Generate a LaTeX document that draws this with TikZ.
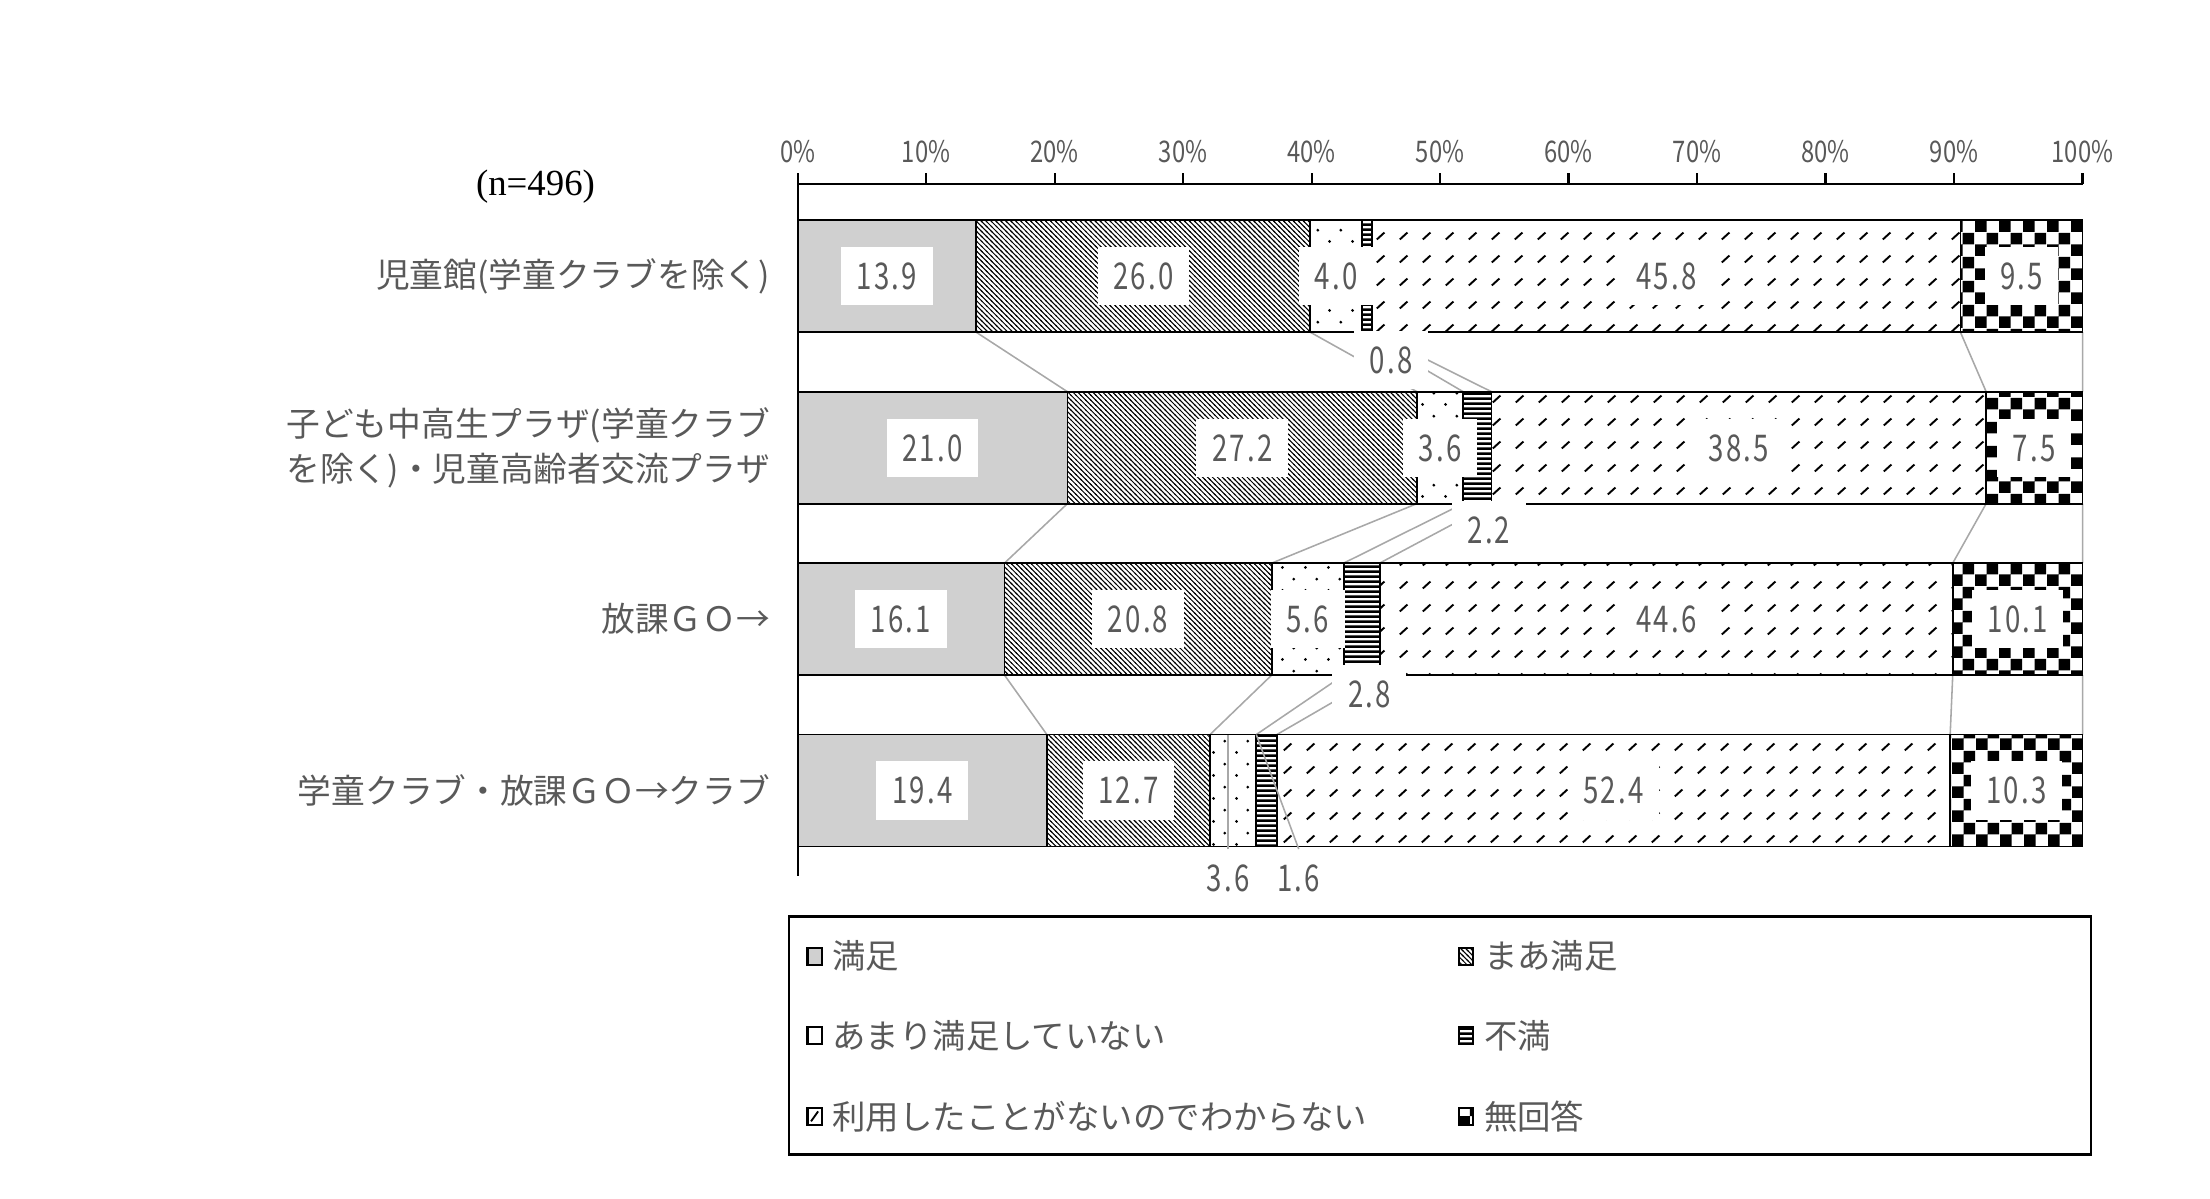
\documentclass[tikz,border=0pt]{standalone}
\usepackage{fontspec}
\setmainfont{Noto Sans CJK JP}
\newfontfamily\numfont[FakeStretch=0.75,LetterSpace=6]{Noto Sans CJK JP}
\newfontfamily\tickfont[FakeStretch=0.8]{Noto Sans CJK JP}
\newfontfamily\serfont{Liberation Serif}
\usetikzlibrary{patterns}
\definecolor{txtgray}{RGB}{89,89,89}
\definecolor{satgray}{RGB}{208,208,208}
\definecolor{sergray}{RGB}{168,168,168}

% fill patterns of the six answers
\pgfdeclarepatternformonly{diagfine}{\pgfqpoint{-1pt}{-1pt}}{\pgfqpoint{4.5pt}{4.5pt}}{\pgfqpoint{3.5pt}{3.5pt}}{%
  \pgfsetlinewidth{0.72pt}%
  \pgfpathmoveto{\pgfqpoint{-0.5pt}{4pt}}%
  \pgfpathlineto{\pgfqpoint{4pt}{-0.5pt}}%
  \pgfusepath{stroke}}
\pgfdeclarepatternformonly{sparsedots}{\pgfqpoint{0pt}{0pt}}{\pgfqpoint{16.4pt}{16.4pt}}{\pgfqpoint{16.4pt}{16.4pt}}{%
  \pgfpathcircle{\pgfqpoint{4pt}{4pt}}{1.1pt}%
  \pgfpathcircle{\pgfqpoint{12.2pt}{12.2pt}}{1.1pt}%
  \pgfusepath{fill}}
\pgfdeclarepatternformonly{hstripes}{\pgfqpoint{0pt}{0pt}}{\pgfqpoint{3.5pt}{3.5pt}}{\pgfqpoint{3.5pt}{3.5pt}}{%
  \pgfpathrectangle{\pgfqpoint{0pt}{0pt}}{\pgfqpoint{3.5pt}{1.8pt}}%
  \pgfusepath{fill}}
\pgfdeclarepatternformonly{slashes}{\pgfqpoint{0pt}{0pt}}{\pgfqpoint{16.4pt}{16.4pt}}{\pgfqpoint{16.4pt}{16.4pt}}{%
  \pgfsetlinewidth{1.4pt}%
  \pgfpathmoveto{\pgfqpoint{5pt}{5.5pt}}%
  \pgfpathlineto{\pgfqpoint{10.5pt}{10.5pt}}%
  \pgfusepath{stroke}}
\pgfdeclarepatternformonly{checks}{\pgfqpoint{0pt}{0pt}}{\pgfqpoint{16.6pt}{16.6pt}}{\pgfqpoint{16.6pt}{16.6pt}}{%
  \pgfpathrectangle{\pgfqpoint{0pt}{0pt}}{\pgfqpoint{8.3pt}{8.3pt}}%
  \pgfpathrectangle{\pgfqpoint{8.3pt}{8.3pt}}{\pgfqpoint{8.3pt}{8.3pt}}%
  \pgfusepath{fill}}

\begin{document}
\begin{tikzpicture}[
  x=1pt, y=-1pt,
  seg/.style={draw=black, line width=1.3pt},
  sat/.style={seg, fill=satgray},
  msat/.style={seg, pattern=diagfine},
  nsat/.style={seg, pattern=sparsedots},
  dis/.style={seg, pattern=hstripes},
  unk/.style={seg, pattern=slashes},
  nan/.style={seg, pattern=checks},
  val/.style={
    fill=white,
    text=txtgray,
    font={\numfont\fontsize{26pt}{26pt}\selectfont},
    inner xsep=11pt,
    inner ysep=11pt,
    text height=19pt,
    text depth=0pt
  },
  serline/.style={draw=sergray, line width=1.1pt},
  axisline/.style={draw=black, line width=1.5pt},
  ticklab/.style={text=txtgray, font={\tickfont\fontsize{21pt}{21pt}\selectfont}},
  catlab/.style={anchor=east, align=right, text=txtgray, font={\fontsize{23.8pt}{32pt}\selectfont}},
  legmark/.style={line width=1.6pt},
  leglab/.style={anchor=west, text=txtgray, font={\fontsize{23.6pt}{23.6pt}\selectfont}}
]
\useasboundingbox (0,0) rectangle (1560,846);

\node[font={\serfont\fontsize{26pt}{26pt}\selectfont}] (nnum) at (378,132) {(n=496)};

% categories
\node[catlab] (c1) at (547,195) {児童館(学童クラブを除く)};
\node[catlab] (c2) at (547,316) {子ども中高生プラザ(学童クラブ\\を除く)・児童高齢者交流プラザ};
\node[catlab] (c3) at (547,437) {放課ＧＯ→};
\node[catlab] (c4) at (547,558) {学童クラブ・放課ＧＯ→クラブ};

\begin{scope}[shift={(563,0)}, x=9.07pt]
% axis
\draw[axisline] (0,618) -- (0,130) -- (100,130);
\foreach \p in {0,10,...,100} {
  \draw[axisline] (\p,130) -- (\p,122);
  \node[ticklab] (t\p) at (\p,107) {\p\%};
}

% series lines
\draw[serline] (13.9,234.5) -- (21.0,276.5) (39.9,234.5) -- (48.2,276.5)
  (43.9,234.5) -- (51.8,276.5) (44.7,234.5) -- (54.0,276.5)
  (90.5,234.5) -- (92.5,276.5) (100,234.5) -- (100,276.5);
\draw[serline] (21.0,355.5) -- (16.1,397.5) (48.2,355.5) -- (36.9,397.5)
  (51.8,355.5) -- (42.5,397.5) (54.0,355.5) -- (45.3,397.5)
  (92.5,355.5) -- (89.9,397.5) (100,355.5) -- (100,397.5);
\draw[serline] (16.1,476.5) -- (19.4,518.5) (36.9,476.5) -- (32.1,518.5)
  (42.5,476.5) -- (35.7,518.5) (45.3,476.5) -- (37.3,518.5)
  (89.9,476.5) -- (89.7,518.5) (100,476.5) -- (100,518.5);

% bar 1
\draw[sat] (0,155.5) rectangle (13.9,234.5);
\draw[msat] (13.9,155.5) rectangle (39.9,234.5);
\draw[nsat] (39.9,155.5) rectangle (43.9,234.5);
\draw[dis] (43.9,155.5) rectangle (44.7,234.5);
\draw[unk] (44.7,155.5) rectangle (90.5,234.5);
\draw[nan] (90.5,155.5) rectangle (100,234.5);
% bar 2
\draw[sat] (0,276.5) rectangle (21.0,355.5);
\draw[msat] (21.0,276.5) rectangle (48.2,355.5);
\draw[nsat] (48.2,276.5) rectangle (51.8,355.5);
\draw[dis] (51.8,276.5) rectangle (54.0,355.5);
\draw[unk] (54.0,276.5) rectangle (92.5,355.5);
\draw[nan] (92.5,276.5) rectangle (100,355.5);
% bar 3
\draw[sat] (0,397.5) rectangle (16.1,476.5);
\draw[msat] (16.1,397.5) rectangle (36.9,476.5);
\draw[nsat] (36.9,397.5) rectangle (42.5,476.5);
\draw[dis] (42.5,397.5) rectangle (45.3,476.5);
\draw[unk] (45.3,397.5) rectangle (89.9,476.5);
\draw[nan] (89.9,397.5) rectangle (100,476.5);
% bar 4
\draw[sat] (0,518.5) rectangle (19.4,597.5);
\draw[msat] (19.4,518.5) rectangle (32.1,597.5);
\draw[nsat] (32.1,518.5) rectangle (35.7,597.5);
\draw[dis] (35.7,518.5) rectangle (37.3,597.5);
\draw[unk] (37.3,518.5) rectangle (89.7,597.5);
\draw[nan] (89.7,518.5) rectangle (100,597.5);

% values
\node[val] (v11) at (6.95,195) {13.9};
\node[val] (v12) at (26.9,195) {26.0};
\node[val] (v13) at (41.9,195) {4.0};
\node[val] (v14) at (46.2,254) {0.8};
\node[val] (v15) at (67.6,195) {45.8};
\node[val] (v16) at (95.25,195) {9.5};

\node[val] (v21) at (10.5,316) {21.0};
\node[val] (v22) at (34.6,316) {27.2};
\node[val] (v23) at (50.0,316) {3.6};
\node[val] (v24) at (53.8,374) {2.2};
\node[val] (v25) at (73.25,316) {38.5};
\node[val] (v26) at (96.25,316) {7.5};

\node[val] (v31) at (8.05,437) {16.1};
\node[val] (v32) at (26.5,437) {20.8};
\node[val] (v33) at (39.7,437) {5.6};
\node[val] (v34) at (44.5,490) {2.8};
\node[val] (v35) at (67.6,437) {44.6};
\node[val] (v36) at (94.95,437) {10.1};

\node[val] (v41) at (9.7,558) {19.4};
\node[val] (v42) at (25.75,558) {12.7};
\node[val] (v43) at (33.5,620) {3.6};
\node[val] (v44) at (39.0,620) {1.6};
\node[val] (v45) at (63.5,558) {52.4};
\node[val] (v46) at (94.85,558) {10.3};

% leader lines
\coordinate (top4) at (0,518.5);
\coordinate (dis4) at (35.7,518.5);
\draw[serline] (v43.north) -- (v43.north |- top4);
\draw[serline] (v44.north) -- (dis4);
\end{scope}

% legend
\draw[line width=1.8pt] (557,647) rectangle (1476,815);
\draw[legmark, fill=satgray] (570,669) rectangle (580,681);
\node[leglab] (leg1) at (584,675) {満足};
\draw[legmark, pattern=diagfine] (1030,669) rectangle (1040,681);
\node[leglab] (leg2) at (1044,675) {まあ満足};
\draw[legmark, fill=white] (570,725) rectangle (580,737);
\node[leglab] (leg3) at (584,731) {あまり満足していない};
\draw[legmark, pattern=hstripes] (1030,725) rectangle (1040,737);
\node[leglab] (leg4) at (1044,731) {不満};
\draw[legmark] (570,782) rectangle (580,794);
\draw[line width=1.3pt] (572.5,791.5) -- (577.5,784.5);
\node[leglab] (leg5) at (584,788) {利用したことがないのでわからない};
\draw[legmark, pattern=checks] (1030,782) rectangle (1040,794);
\node[leglab] (leg6) at (1044,788) {無回答};
\end{tikzpicture}
\end{document}
